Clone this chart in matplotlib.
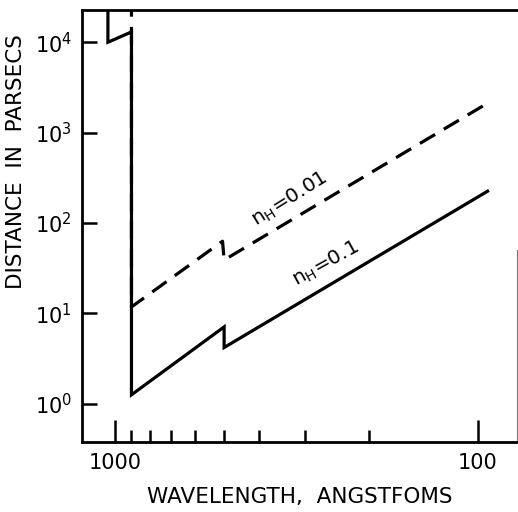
import matplotlib
matplotlib.use("Agg")
import matplotlib.pyplot as plt
from matplotlib.ticker import FixedLocator, NullFormatter

# wavelength (Angstrom) vs distance (pc)
solid_wl = [1045, 1045, 900, 900, 500, 500, 94]
solid_pc = [3e4, 1.0e4, 1.3e4, 1.26, 7.1, 4.2, 225]
dashed_wl = [900, 900, 505, 500, 94]
dashed_pc = [3e4, 11.8, 63, 39, 2120]

xmajor = [1000, 100]
xminor = [900, 800, 700, 600, 500, 400, 300, 200]
yticks = [1, 10, 100, 1000, 10000]
ylabels = [r"$10^0$", r"$10^1$", r"$10^2$", r"$10^3$", r"$10^4$"]

fig = plt.figure(figsize=(5.18, 5.12), dpi=100)
ax = fig.add_axes([0.158, 0.137, 0.840, 0.843])

ax.plot(solid_wl, solid_pc, color="black", lw=2.3, solid_joinstyle="miter")
ax.plot(dashed_wl, dashed_pc, color="black", lw=2.3, dashes=(5.5, 3.2))

ax.set_xscale("log")
ax.set_yscale("log")
ax.set_xlim(1233, 78)
ax.set_ylim(0.38, 2.26e4)

ax.xaxis.set_major_locator(FixedLocator(xmajor))
ax.xaxis.set_minor_locator(FixedLocator(xminor))
ax.xaxis.set_minor_formatter(NullFormatter())
ax.set_xticklabels(["1000", "100"])
ax.yaxis.set_major_locator(FixedLocator(yticks))
ax.yaxis.set_minor_locator(FixedLocator([]))
ax.set_yticklabels(ylabels)

ax.tick_params(axis="x", which="major", direction="in", length=16, width=1.8,
               labelsize=15, pad=8)
ax.tick_params(axis="x", which="minor", direction="in", length=9, width=1.8)
ax.tick_params(axis="y", which="major", direction="in", length=11, width=1.8,
               labelsize=15, pad=7)

for side in ["left", "top", "bottom"]:
    ax.spines[side].set_linewidth(2.0)
ax.spines["right"].set_linewidth(0.8)
ax.spines["right"].set_color("#777777")
ax.spines["right"].set_bounds(0.38, 50)

ax.text(330, 182, r"$\mathregular{n_H}$=0.01", rotation=32, ha="center",
        va="center", rotation_mode="anchor", fontsize=14.5)
ax.text(263, 35, r"$\mathregular{n_H}$=0.1", rotation=29, ha="center",
        va="center", rotation_mode="anchor", fontsize=14.5)

ax.set_ylabel("DISTANCE  IN  PARSECS", fontsize=15.5)
ax.yaxis.set_label_coords(-0.128, 0.65)
ax.set_xlabel("WAVELENGTH,  ANGSTFOMS", fontsize=15.5, labelpad=10)

fig.savefig("out.png", dpi=100)
